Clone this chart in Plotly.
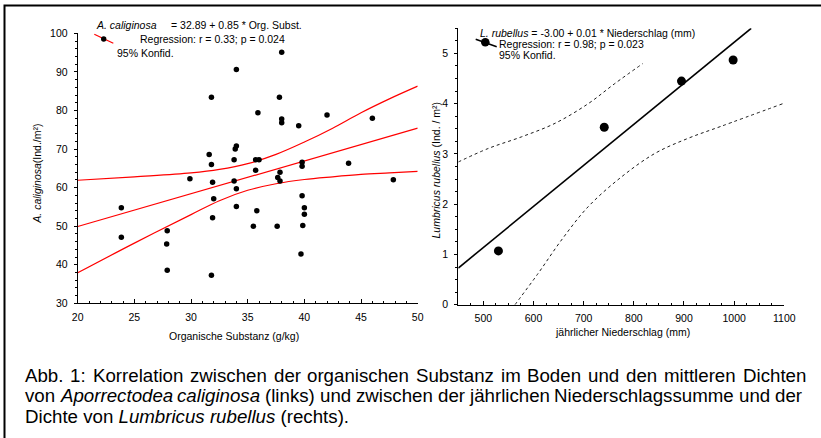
import plotly.graph_objects as go

# ---------------- data ----------------
# left panel: organic matter vs. A. caliginosa density
org_subst = [38.0, 34.0, 31.8, 37.8, 35.9, 42.0, 38.0, 38.0, 46.0, 39.5,
             34.0, 33.9, 31.6, 31.8, 33.8, 35.7, 36.0, 39.8, 39.8, 43.9,
             35.7, 37.85, 29.9, 37.65, 47.85, 31.9, 33.8, 37.85, 23.85, 32.0,
             34.0, 34.0, 35.8, 31.9, 39.8, 40.0, 40.0, 39.86, 35.5, 37.6,
             23.85, 27.9, 27.85, 27.9, 31.8, 39.7]
a_caliginosa = [95.1, 90.6, 83.4, 83.4, 79.4, 78.8, 77.8, 76.8, 78.0, 76.0,
                70.8, 70.0, 68.6, 66.0, 67.2, 67.2, 67.2, 66.6, 65.5, 66.3,
                64.5, 64.0, 62.3, 62.6, 62.0, 61.4, 61.7, 61.7, 54.8, 57.1,
                59.7, 55.1, 54.0, 52.2, 57.9, 54.8, 53.1, 50.2, 50.0, 50.0,
                47.1, 48.8, 45.4, 38.6, 37.3, 42.8]
fit_left_x = [20, 50]
fit_left_y = [49.9, 75.4]
ci_left_x = [20, 25, 30, 32.5, 35, 37.5, 40, 42.5, 45, 47.5, 50]
ci_left_upper = [61.9, 62.8, 63.8, 64.7, 66.2, 68.6, 71.8, 75.4, 79.4, 83.0, 86.3]
ci_left_lower = [37.9, 45.6, 53.0, 56.6, 59.3, 61.0, 62.1, 62.8, 63.4, 63.8, 64.2]

# right panel: annual precipitation vs. L. rubellus density
niederschlag = [530, 741, 895, 998]
l_rubellus = [1.07, 3.53, 4.45, 4.87]
fit_right_x = [450, 1034]
fit_right_y = [0.73, 5.5]
ci_right_upper_x = [450, 510, 576, 643, 709, 762, 818]
ci_right_upper_y = [2.84, 3.11, 3.34, 3.61, 4.00, 4.40, 4.80]
ci_right_lower_x = [563, 609, 656, 709, 775, 842, 908, 974, 1097]
ci_right_lower_y = [0.0, 0.62, 1.29, 1.95, 2.54, 3.01, 3.31, 3.55, 4.00]

left_xticks = [20, 25, 30, 35, 40, 45, 50]
left_yticks = [30, 40, 50, 60, 70, 80, 90, 100]
right_xticks = [500, 600, 700, 800, 900, 1000, 1100]
right_yticks = [0, 1, 2, 3, 4, 5]

caption_lines = [
    "Abb. 1: Korrelation zwischen der organischen Substanz im Boden und den mittleren Dichten",
    "von <i>Aporrectodea caliginosa</i> (links) und zwischen der jährlichen Niederschlagssumme und der",
    "Dichte von <i>Lumbricus rubellus</i> (rechts).",
]

# ---------------- layout helpers ----------------
W, H = 821, 438
FONT = "Liberation Sans, Arial, sans-serif"


def px(x):
    return x / W


def py(y):
    return 1 - y / H


fig = go.Figure()

# left panel traces
fig.add_trace(go.Scatter(x=ci_left_x, y=ci_left_upper, mode="lines", line_shape="spline",
                         line=dict(color="#ff0000", width=1.2), xaxis="x", yaxis="y"))
fig.add_trace(go.Scatter(x=ci_left_x, y=ci_left_lower, mode="lines", line_shape="spline",
                         line=dict(color="#ff0000", width=1.2), xaxis="x", yaxis="y"))
fig.add_trace(go.Scatter(x=fit_left_x, y=fit_left_y, mode="lines",
                         line=dict(color="#ff0000", width=1.2), xaxis="x", yaxis="y"))
fig.add_trace(go.Scatter(x=org_subst, y=a_caliginosa, mode="markers",
                         marker=dict(color="black", size=5.5), xaxis="x", yaxis="y"))

# right panel traces
fig.add_trace(go.Scatter(x=ci_right_upper_x, y=ci_right_upper_y, mode="lines", line_shape="spline",
                         line=dict(color="black", width=0.9, dash="dot"), xaxis="x2", yaxis="y2"))
fig.add_trace(go.Scatter(x=ci_right_lower_x, y=ci_right_lower_y, mode="lines", line_shape="spline",
                         line=dict(color="black", width=0.9, dash="dot"), xaxis="x2", yaxis="y2"))
fig.add_trace(go.Scatter(x=fit_right_x, y=fit_right_y, mode="lines",
                         line=dict(color="black", width=1.6), xaxis="x2", yaxis="y2"))
fig.add_trace(go.Scatter(x=niederschlag, y=l_rubellus, mode="markers",
                         marker=dict(color="black", size=9), xaxis="x2", yaxis="y2"))

tickfont = dict(family=FONT, size=10.5, color="black")
common_x = dict(showline=True, linecolor="black", linewidth=1, showgrid=False, zeroline=False,
                ticks="inside", ticklen=4, tickcolor="black", tickfont=tickfont,
                ticklabelstandoff=4, fixedrange=True)
common_y = dict(showline=True, linecolor="black", linewidth=1, showgrid=False, zeroline=False,
                ticks="outside", ticklen=3, tickcolor="black", tickfont=tickfont,
                ticklabelstandoff=4, fixedrange=True)

fig.update_layout(
    width=W, height=H,
    margin=dict(l=0, r=0, t=0, b=0, autoexpand=False),
    paper_bgcolor="white", plot_bgcolor="white",
    showlegend=False,
    font=dict(family=FONT, size=10.5, color="black"),
    xaxis=dict(domain=[px(77.7), px(417.7)], range=[20, 50], tickvals=left_xticks,
               minor=dict(dtick=1, ticks="inside", ticklen=2, tickcolor="black"),
               anchor="y", **common_x),
    yaxis=dict(domain=[py(303.3), py(33.3)], range=[30, 100], tickvals=left_yticks,
               minor=dict(dtick=2, ticks="outside", ticklen=2, tickcolor="black"),
               anchor="x", **common_y),
    xaxis2=dict(domain=[px(458.3), px(784.3)], range=[450, 1100], tickvals=right_xticks,
                minor=dict(dtick=25, ticks="inside", ticklen=2, tickcolor="black"),
                anchor="y2", **common_x),
    yaxis2=dict(domain=[py(304.7), py(28.3)], range=[0, 5.5], tickvals=right_yticks,
                minor=dict(dtick=0.25, ticks="outside", ticklen=2, tickcolor="black"),
                anchor="x2", **common_y),
)

ann = []


def text(x, y, s, size=10.5, xanchor="left", angle=0):
    ann.append(dict(x=px(x), y=py(y), xref="paper", yref="paper", text=s, showarrow=False,
                    xanchor=xanchor, yanchor="middle", textangle=angle,
                    font=dict(family=FONT, size=size, color="black")))


# axis titles
text(233.7, 335.7, "Organische Substanz (g/kg)", xanchor="center")
text(622.2, 332.3, "jährlicher Niederschlag (mm)", xanchor="center")
text(37, 173.7, "<i>A. caliginosa</i>(Ind./m²)", xanchor="center", angle=-90)
text(435, 169.5, "<i>Lumbricus rubellus</i> (Ind. / m²)", xanchor="center", angle=-90)

# legend texts (left)
text(94.3, 25, "<i>A. caliginosa</i>")
text(169.3, 25, "= 32.89 + 0.85 * Org. Subst.")
text(138.3, 39.3, "Regression: r = 0.33; p = 0.024")
text(115, 53.3, "95% Konfid.")
# legend texts (right)
text(478, 33.3, "<i>L. rubellus</i> = -3.00 + 0.01 * Niederschlag (mm)")
text(497.3, 43.8, "Regression: r = 0.98; p = 0.023")
text(497.3, 55.5, "95% Konfid.")

# ---------------- caption (justified like the original) ----------------
# Arial / Liberation Sans advance widths (1/1000 em) for the caption glyphs
ADV = {" ": 278, "A": 667, "B": 667, "D": 722, "K": 667, "L": 556, "N": 722, "S": 667,
       "a": 556, "b": 556, "c": 500, "d": 556, "e": 556, "g": 556, "h": 556, "i": 222,
       "j": 222, "k": 500, "l": 222, "m": 833, "n": 556, "o": 556, "p": 556, "r": 333,
       "s": 500, "t": 278, "u": 556, "v": 500, "w": 722, "z": 500, "ä": 556, ".": 278,
       ":": 278, "1": 556, "(": 333, ")": 333}
CAP_SIZE = 18.7
CAP_LEFT = 23
CAP_RIGHT = [804, 800]
CAP_Y0, CAP_DY = 375, 20.5


def plain(s):
    return s.replace("<i>", "").replace("</i>", "")


def word_w(s):
    return sum(ADV.get(c, 556) for c in plain(s)) * CAP_SIZE / 1000


def tokens(line):
    out, ital = [], False
    for tok in line.split(" "):
        starts = tok.startswith("<i>")
        ends = tok.endswith("</i>")
        core = plain(tok)
        if starts:
            ital = True
        out.append(("<i>" + core + "</i>") if ital else core)
        if ends:
            ital = False
    return out


for i, line in enumerate(caption_lines):
    y = CAP_Y0 + i * CAP_DY
    if i < len(CAP_RIGHT):
        words = tokens(line)
        total = sum(word_w(w) for w in words)
        gap = (CAP_RIGHT[i] - CAP_LEFT - total) / (len(words) - 1)
        x = CAP_LEFT
        for w in words:
            text(x, y, w, size=CAP_SIZE)
            x += word_w(w) + gap
    else:
        text(CAP_LEFT, y, line, size=CAP_SIZE)

fig.update_layout(annotations=ann)

shapes = [
    # outer frame (extends beyond the right and bottom edges)
    dict(type="rect", xref="paper", yref="paper", x0=px(4.5), x1=1.05, y0=-0.05, y1=py(5.5),
         line=dict(color="black", width=2), fillcolor="rgba(0,0,0,0)"),
    # legend glyph left
    dict(type="line", xref="paper", yref="paper", x0=px(94.3), y0=py(34.3), x1=px(113.3), y1=py(43.3),
         line=dict(color="#ff0000", width=1.2)),
    dict(type="circle", xref="paper", yref="paper", x0=px(101.0), x1=px(106.4), y0=py(41.7), y1=py(36.3),
         line=dict(color="black", width=0), fillcolor="black"),
    # legend glyph right
    dict(type="line", xref="paper", yref="paper", x0=px(475.7), y0=py(39.3), x1=px(496.7), y1=py(46.7),
         line=dict(color="black", width=1.6)),
    dict(type="circle", xref="paper", yref="paper", x0=px(481.0), x1=px(489.6), y0=py(46.6), y1=py(38.0),
         line=dict(color="black", width=0), fillcolor="black"),
]
fig.update_layout(shapes=shapes)

# remove the browser's default page margin so the figure fills the window
fig.write_html(
    "out.html",
    config={"displayModeBar": False, "staticPlot": True},
    post_script="document.body.style.margin='0';document.body.style.padding='0';"
                "document.body.style.overflow='hidden';",
)
